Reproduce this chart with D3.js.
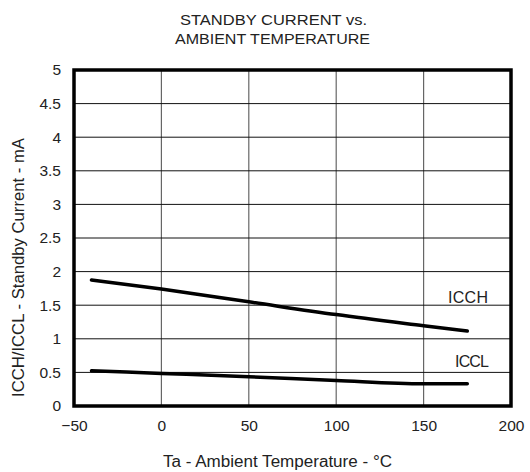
<!DOCTYPE html>
<html><head><meta charset="utf-8">
<script src="https://cdn.jsdelivr.net/npm/d3@7"></script>
<style>body{margin:0;background:#fff}svg{display:block}text{font-family:"Liberation Sans",Arial,sans-serif;fill:#222}</style>
</head><body><div id="c"></div>
<script>
const temps = [-40, 0, 50, 100, 150, 175];
const icch = [1.875, 1.74, 1.55, 1.36, 1.195, 1.115];
const iccl = [0.525, 0.485, 0.435, 0.378, 0.33, 0.332];
const xTicks = [-50, 0, 50, 100, 150, 200];
const yTicks = [0, 0.5, 1, 1.5, 2, 2.5, 3, 3.5, 4, 4.5, 5];
const titleLines = ["STANDBY CURRENT vs.", "AMBIENT TEMPERATURE"];

const W = 530, H = 472;
const m = {l: 74, r: 19, t: 70, b: 66};
const svg = d3.select("#c").append("svg").attr("width", W).attr("height", H);
const x = d3.scaleLinear().domain([-50, 200]).range([m.l, W - m.r]);
const y = d3.scaleLinear().domain([0, 5]).range([H - m.b, m.t]);

// grid
svg.append("g").selectAll("line").data(xTicks.slice(1, -1)).join("line")
  .attr("x1", d => x(d)).attr("x2", d => x(d)).attr("y1", y(0)).attr("y2", y(5))
  .attr("stroke", "#666").attr("stroke-width", 1.2);
svg.append("g").selectAll("line").data(yTicks.slice(1, -1)).join("line")
  .attr("x1", x(-50)).attr("x2", x(200)).attr("y1", d => y(d)).attr("y2", d => y(d))
  .attr("stroke", "#111").attr("stroke-width", 1);

// axes labels via d3 axes
const xa = svg.append("g").attr("transform", `translate(0,${y(0)})`)
  .call(d3.axisBottom(x).tickValues(xTicks).tickSize(0).tickPadding(14).tickFormat(d3.format("d")));
xa.select(".domain").remove();
xa.selectAll("text").attr("font-size", 15.5).attr("fill", "#222").style("font-family", '"Liberation Sans",Arial,sans-serif');
const ya = svg.append("g").attr("transform", `translate(${x(-50)},0)`)
  .call(d3.axisLeft(y).tickValues(yTicks).tickSize(0).tickPadding(13).tickFormat(d => String(d)));
ya.select(".domain").remove();
ya.selectAll("text").attr("font-size", 15.5).attr("fill", "#222").style("font-family", '"Liberation Sans",Arial,sans-serif');

// frame
svg.append("rect").attr("x", x(-50)).attr("y", y(5)).attr("width", x(200) - x(-50)).attr("height", y(0) - y(5))
  .attr("fill", "none").attr("stroke", "#000").attr("stroke-width", 3.5);

// lines
const line = d3.line().x((d, i) => x(temps[i])).y(d => y(d)).curve(d3.curveMonotoneX);
[icch, iccl].forEach(s => svg.append("path").attr("d", line(s)).attr("fill", "none")
  .attr("stroke", "#000").attr("stroke-width", 3.5).attr("stroke-linecap", "round"));

svg.append("text").attr("x", 448).attr("y", 303).attr("font-size", 16).attr("textLength", 40).text("ICCH");
svg.append("text").attr("x", 455).attr("y", 367).attr("font-size", 16).attr("textLength", 34).text("ICCL");

// titles
const tl = [187, 195];
svg.append("g").selectAll("text").data(titleLines).join("text")
  .attr("x", (d, i) => i ? 175 : 180).attr("y", (d, i) => 25 + i * 18.5).attr("font-size", 15)
  .attr("textLength", (d, i) => tl[i]).attr("lengthAdjust", "spacingAndGlyphs").text(d => d);
svg.append("text").attr("x", 163).attr("y", 467).attr("font-size", 16)
  .attr("textLength", 229).attr("lengthAdjust", "spacingAndGlyphs")
  .text("Ta - Ambient Temperature  - °C");
svg.append("text").attr("transform", "translate(24,397) rotate(-90)").attr("font-size", 16)
  .attr("textLength", 259).attr("lengthAdjust", "spacingAndGlyphs")
  .text("ICCH/ICCL - Standby Current - mA");
</script></body></html>
